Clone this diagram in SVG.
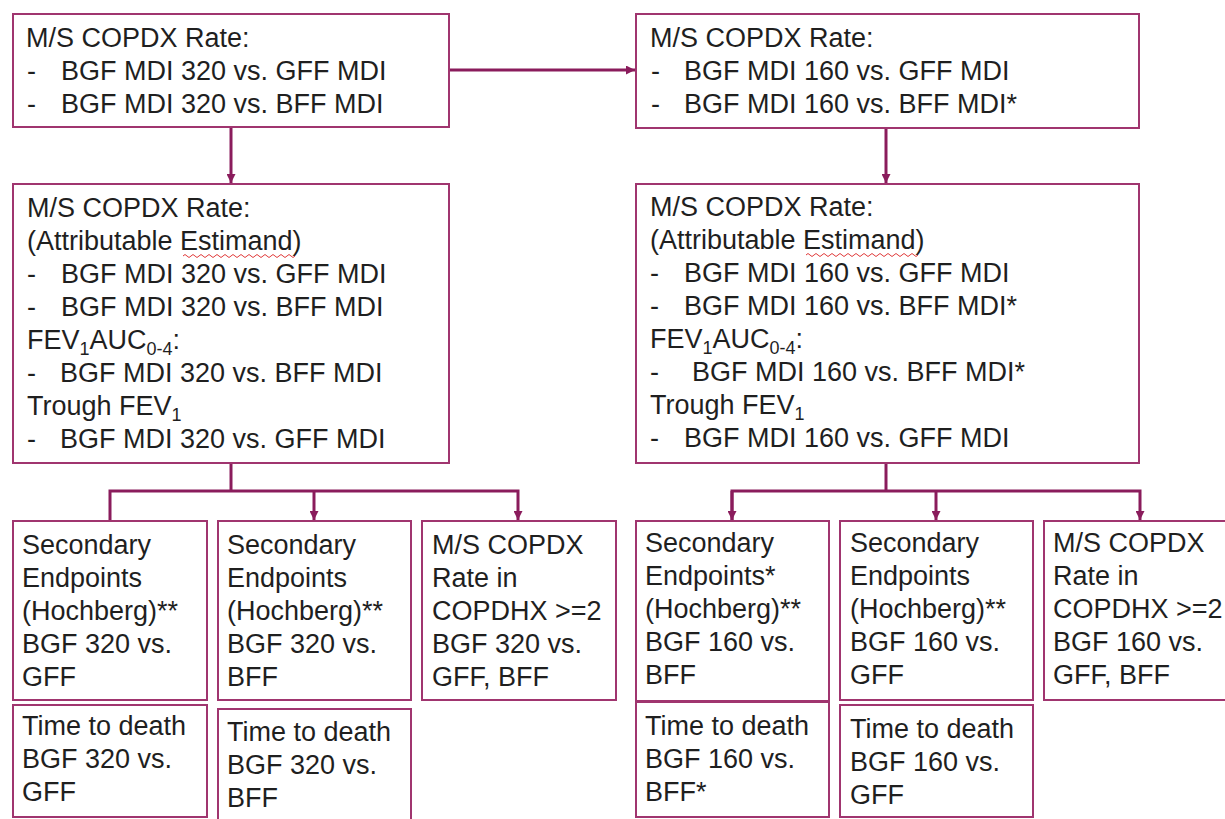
<svg xmlns="http://www.w3.org/2000/svg" width="1225" height="819" viewBox="0 0 1225 819">
<defs>
<style>
.box{fill:#ffffff;stroke:#A0356F;stroke-width:2}
.t{font-family:"Liberation Sans",Arial,sans-serif;font-size:27px;fill:#1f1f1f}
.sub{font-size:18px}
.con{fill:none;stroke:#8A1C5C;stroke-width:3}
.wave{fill:none;stroke:#E03A3A;stroke-width:1}
</style>
<marker id="ah" viewBox="0 0 10 10" refX="10" refY="5" markerWidth="9" markerHeight="9" markerUnits="userSpaceOnUse" orient="auto">
<path d="M0,0 L10,5 L0,10 Z" fill="#8A1C5C"/>
</marker>
</defs>
<rect width="1225" height="819" fill="#ffffff"/>

<g id="connectors">
<line class="con" x1="449" y1="70" x2="635" y2="70" marker-end="url(#ah)"/>
<line class="con" x1="231" y1="127" x2="231" y2="183" marker-end="url(#ah)"/>
<line class="con" x1="886" y1="128" x2="886" y2="183" marker-end="url(#ah)"/>
<polyline class="con" points="231,463 231,491"/>
<polyline class="con" points="110,520 110,491 518,491 518,520" marker-start="url(#ah)" marker-end="url(#ah)"/>
<line class="con" x1="314" y1="491" x2="314" y2="520" marker-end="url(#ah)"/>
<polyline class="con" points="886,463 886,491"/>
<polyline class="con" points="732,520 732,491 1140,491 1140,520" marker-end="url(#ah)"/>
<line class="con" x1="732" y1="491" x2="732" y2="520" marker-end="url(#ah)"/>
<line class="con" x1="936" y1="491" x2="936" y2="520" marker-end="url(#ah)"/>
</g>

<g id="n_top_left">
<rect class="box" x="13" y="14" width="436" height="113"/>
<text class="t" x="26" y="47">M/S COPDX Rate:</text>
<text class="t" x="27" y="80">-</text><text class="t" x="61" y="80">BGF MDI 320 vs. GFF MDI</text>
<text class="t" x="27" y="113">-</text><text class="t" x="61" y="113">BGF MDI 320 vs. BFF MDI</text>
</g>

<g id="n_top_right">
<rect class="box" x="636" y="14" width="503" height="114"/>
<text class="t" x="650" y="47">M/S COPDX Rate:</text>
<text class="t" x="651" y="80">-</text><text class="t" x="684" y="80">BGF MDI 160 vs. GFF MDI</text>
<text class="t" x="651" y="113">-</text><text class="t" x="684" y="113">BGF MDI 160 vs. BFF MDI*</text>
</g>

<g id="n_mid_left">
<rect class="box" x="13" y="184" width="436" height="279"/>
<text class="t" x="27" y="217">M/S COPDX Rate:</text>
<text class="t" x="27" y="250">(Attributable Estimand)</text>
<path class="wave" d="M183,256 q2,-3 4,0 t4,0 t4,0 t4,0 t4,0 t4,0 t4,0 t4,0 t4,0 t4,0 t4,0 t4,0 t4,0 t4,0 t4,0 t4,0 t4,0 t4,0 t4,0 t4,0 t4,0 t4,0 t4,0 t4,0 t4,0 t4,0 t4,0 t4,0"/>
<text class="t" x="27" y="283">-</text><text class="t" x="61" y="283">BGF MDI 320 vs. GFF MDI</text>
<text class="t" x="27" y="316">-</text><text class="t" x="61" y="316">BGF MDI 320 vs. BFF MDI</text>
<text class="t" x="27" y="349">FEV<tspan class="sub" dy="6">1</tspan><tspan dy="-6">AUC</tspan><tspan class="sub" dy="6">0-4</tspan><tspan dy="-6">:</tspan></text>
<text class="t" x="27" y="382">-</text><text class="t" x="60" y="382">BGF MDI 320 vs. BFF MDI</text>
<text class="t" x="27" y="415">Trough FEV<tspan class="sub" dy="6">1</tspan></text>
<text class="t" x="27" y="448">-</text><text class="t" x="60" y="448">BGF MDI 320 vs. GFF MDI</text>
</g>

<g id="n_mid_right">
<rect class="box" x="636" y="184" width="503" height="279"/>
<text class="t" x="650" y="216">M/S COPDX Rate:</text>
<text class="t" x="650" y="249">(Attributable Estimand)</text>
<path class="wave" d="M806,255 q2,-3 4,0 t4,0 t4,0 t4,0 t4,0 t4,0 t4,0 t4,0 t4,0 t4,0 t4,0 t4,0 t4,0 t4,0 t4,0 t4,0 t4,0 t4,0 t4,0 t4,0 t4,0 t4,0 t4,0 t4,0 t4,0 t4,0 t4,0 t4,0"/>
<text class="t" x="650" y="282">-</text><text class="t" x="684" y="282">BGF MDI 160 vs. GFF MDI</text>
<text class="t" x="650" y="315">-</text><text class="t" x="684" y="315">BGF MDI 160 vs. BFF MDI*</text>
<text class="t" x="650" y="348">FEV<tspan class="sub" dy="6">1</tspan><tspan dy="-6">AUC</tspan><tspan class="sub" dy="6">0-4</tspan><tspan dy="-6">:</tspan></text>
<text class="t" x="650" y="381">-</text><text class="t" x="692" y="381">BGF MDI 160 vs. BFF MDI*</text>
<text class="t" x="650" y="414">Trough FEV<tspan class="sub" dy="6">1</tspan></text>
<text class="t" x="650" y="447">-</text><text class="t" x="684" y="447">BGF MDI 160 vs. GFF MDI</text>
</g>

<g id="n_l1">
<rect class="box" x="13" y="521" width="194" height="179"/>
<text class="t" x="22" y="554">Secondary</text>
<text class="t" x="22" y="587">Endpoints</text>
<text class="t" x="22" y="620">(Hochberg)**</text>
<text class="t" x="22" y="653">BGF 320 vs.</text>
<text class="t" x="22" y="686">GFF</text>
</g>
<g id="n_l1b">
<rect class="box" x="13" y="705" width="194" height="112"/>
<text class="t" x="22" y="735">Time to death</text>
<text class="t" x="22" y="768">BGF 320 vs.</text>
<text class="t" x="22" y="801">GFF</text>
</g>
<g id="n_l2">
<rect class="box" x="218" y="521" width="193" height="179"/>
<text class="t" x="227" y="554">Secondary</text>
<text class="t" x="227" y="587">Endpoints</text>
<text class="t" x="227" y="620">(Hochberg)**</text>
<text class="t" x="227" y="653">BGF 320 vs.</text>
<text class="t" x="227" y="686">BFF</text>
</g>
<g id="n_l2b">
<rect class="box" x="218" y="709" width="193" height="115"/>
<text class="t" x="227" y="741">Time to death</text>
<text class="t" x="227" y="774">BGF 320 vs.</text>
<text class="t" x="227" y="807">BFF</text>
</g>
<g id="n_l3">
<rect class="box" x="422" y="521" width="194" height="179"/>
<text class="t" x="432" y="554">M/S COPDX</text>
<text class="t" x="432" y="587">Rate in</text>
<text class="t" x="432" y="620">COPDHX &gt;=2</text>
<text class="t" x="432" y="653">BGF 320 vs.</text>
<text class="t" x="432" y="686">GFF, BFF</text>
</g>

<g id="n_r1">
<rect class="box" x="636" y="521" width="193" height="180"/>
<text class="t" x="645" y="552">Secondary</text>
<text class="t" x="645" y="585">Endpoints*</text>
<text class="t" x="645" y="618">(Hochberg)**</text>
<text class="t" x="645" y="651">BGF 160 vs.</text>
<text class="t" x="645" y="684">BFF</text>
</g>
<g id="n_r1b">
<rect class="box" x="636" y="702" width="193" height="115"/>
<text class="t" x="645" y="735">Time to death</text>
<text class="t" x="645" y="768">BGF 160 vs.</text>
<text class="t" x="645" y="801">BFF*</text>
</g>
<g id="n_r2">
<rect class="box" x="840" y="521" width="193" height="179"/>
<text class="t" x="850" y="552">Secondary</text>
<text class="t" x="850" y="585">Endpoints</text>
<text class="t" x="850" y="618">(Hochberg)**</text>
<text class="t" x="850" y="651">BGF 160 vs.</text>
<text class="t" x="850" y="684">GFF</text>
</g>
<g id="n_r2b">
<rect class="box" x="840" y="705" width="193" height="112"/>
<text class="t" x="850" y="738">Time to death</text>
<text class="t" x="850" y="771">BGF 160 vs.</text>
<text class="t" x="850" y="804">GFF</text>
</g>
<g id="n_r3">
<rect class="box" x="1044" y="521" width="190" height="179"/>
<text class="t" x="1053" y="552">M/S COPDX</text>
<text class="t" x="1053" y="585">Rate in</text>
<text class="t" x="1053" y="618">COPDHX &gt;=2</text>
<text class="t" x="1053" y="651">BGF 160 vs.</text>
<text class="t" x="1053" y="684">GFF, BFF</text>
</g>
</svg>
